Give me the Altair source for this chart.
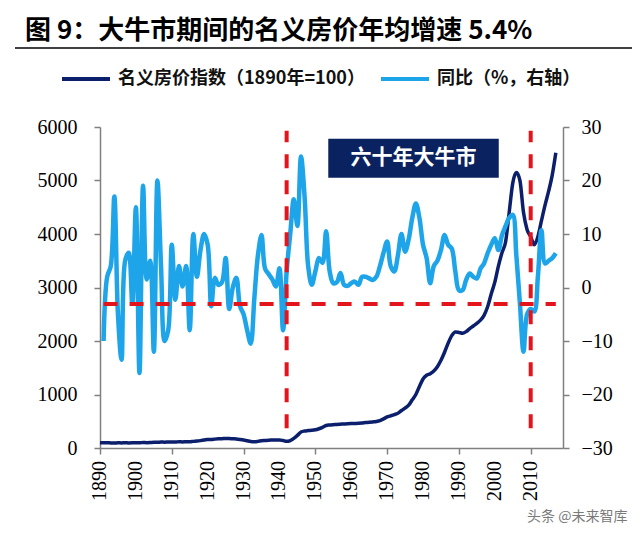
import altair as alt
import pandas as pd

# ---------------- data ----------------
title_text = "图 9：大牛市期间的名义房价年均增速 5.4%"
series_names = ["名义房价指数（1890年=100）", "同比（%，右轴）"]
box_label = "六十年大牛市"
watermark = "头条 @未来智库"

index_years = list(range(1890, 2018))
index_values = [
    100, 96, 100, 95, 93, 97, 95, 98, 94, 96,
    100, 96, 104, 100, 102, 108, 106, 112, 108, 112,
    114, 110, 118, 114, 118, 116, 124, 130, 138, 148,
    160, 158, 166, 172, 174, 178, 176, 172, 168, 160,
    150, 136, 122, 118, 124, 134, 140, 146, 148, 150,
    150, 140, 125, 140, 180, 235, 300, 318, 325, 330,
    340, 360, 385, 420, 430, 436, 441, 446, 450, 453,
    456, 459, 463, 468, 475, 481, 488, 496, 512, 545,
    580, 602, 625, 650, 700, 745, 800, 900, 1000, 1150,
    1290, 1360, 1390, 1440, 1520, 1640, 1790, 1960, 2100, 2170,
    2160, 2145, 2175, 2230, 2280, 2330, 2390, 2480, 2640, 2880,
    3100, 3400, 3650, 3850, 4400, 4950, 5150, 5000, 4400, 4080,
    3950, 3800, 3950, 4250, 4540, 4800, 5100, 5520,
]

yoy_years = list(range(1891, 2018))
yoy_values = [
    -10, 2, 4, 17, -5, -13.5, 5, 6.5, -3,                 # 1891-1899
    15, -16, 19, 1.5, 5, -12, 20, 4, -10, -8,             # 1900-1909
    8, -2.3, 4, 0.2, 4, -8, 10, 2, 7, 10,                 # 1910-1919
    8, -3.5, 1.8, 0.5, 1, 5.5, -4, 0, 1.8, -3.5,          # 1920-1929
    -5, -8, -10.5, -2, 6, 9.8, 3.5, 2.5, 1.5, 0.2,        # 1930-1939
    3.6, -8, 3, 10, 16.5, 11.5, 24.5, 17, 4, 0.5,         # 1940-1949
    3, 5.5, 4.6, 10.5, 3, 0.8, 1, 2.7, 0.5, 0.3,          # 1950-1959
    0.8, 1.1, 0.5, 2, 2, 1.7, 1.4, 2, 4, 6.5,             # 1960-1969
    8.6, 4, 3, 6, 10, 6.7, 9, 13, 15.7, 13,               # 1970-1979
    8, 5.5, 0.8, 4, 5, 7, 9.8, 8, 7.3, 3,                 # 1980-1989
    -0.5, -0.5, 1.4, 2.6, 2, 1.7, 3.5, 4.5, 6.4, 8,       # 1990-1999
    9.2, 7, 9.8, 11.5, 13, 13.6, 6, -3, -12, -5,          # 2000-2009
    -4, -4.5, 2, 10.7, 4.5, 5, 5.5, 6.4,                  # 2010-2017
]

x_domain = [1890, 2019]
x_ticks = list(range(1890, 2011, 10))
left_domain = [0, 6000]
left_ticks = list(range(0, 6001, 1000))
right_domain = [-30, 30]
right_ticks = list(range(-30, 31, 10))

split_years = [1942, 2010]          # red dashed verticals
split_span = [-26.3, 29.3]          # their extent, right-axis units
ref_level = [-3.1]                  # red dashed horizontal, right-axis units
ref_span = [1891, 2017]

box_years = [1953.6, 2001.1]        # annotation box, left-axis units
box_values = [5050, 5780]

NAVY = "#0C1F6C"
BOX = "#0B2260"
BLUE = "#1EA4E9"
RED = "#E3141B"
AXIS_GREY = "#808080"

# ---------------- frames ----------------
idx_df = pd.DataFrame({"year": index_years, "value": index_values, "series": series_names[0]})
yoy_df = pd.DataFrame({"year": yoy_years, "value": yoy_values, "series": series_names[1]})
split_df = pd.DataFrame({"year": split_years, "lo": split_span[0], "hi": split_span[1]})
ref_df = pd.DataFrame({"level": ref_level, "x0": ref_span[0], "x1": ref_span[1]})
tick_df = pd.DataFrame({"year": x_ticks, "label": [str(t) for t in x_ticks]})
box_df = pd.DataFrame({
    "x0": [box_years[0]], "x1": [box_years[1]],
    "y0": [box_values[0]], "y1": [box_values[1]],
    "xm": [sum(box_years) / 2], "ym": [sum(box_values) / 2],
    "label": [box_label],
})

x_scale = alt.Scale(domain=x_domain, nice=False, zero=False)
x_axis = alt.Axis(values=x_ticks, labels=False, title=None, grid=False)
left_scale = alt.Scale(domain=left_domain, nice=False, zero=False)
right_scale = alt.Scale(domain=right_domain, nice=False, zero=False)

color = alt.Color(
    "series:N",
    scale=alt.Scale(domain=series_names, range=[NAVY, BLUE]),
    legend=alt.Legend(
        title=None, orient="none", direction="horizontal",
        legendX=-40, legendY=-74,
        symbolType="stroke", symbolSize=2304, symbolStrokeWidth=4,
        labelFont="Noto Sans CJK SC", labelFontSize=18, labelFontWeight="bold",
        labelColor="#111111", labelLimit=400, labelOffset=6, columnPadding=8,
    ),
)

# ---------------- left group: index ----------------
navy_line = alt.Chart(idx_df).mark_line(strokeWidth=3.5, interpolate="monotone").encode(
    x=alt.X("year:Q", scale=x_scale, axis=x_axis),
    y=alt.Y("value:Q", scale=left_scale,
            axis=alt.Axis(values=left_ticks, orient="left", title=None, grid=False,
                          labelPadding=17, format="d")),
    color=color,
)

# x-axis tick labels (vertical, reading upward), placed via the x scale
x_labels = alt.Chart(tick_df).mark_text(
    font="Liberation Serif", fontSize=20, color="black", angle=270,
    align="right", baseline="middle",
).encode(x=alt.X("year:Q", scale=x_scale, axis=x_axis), y=alt.value(334), text="label:N")

box_rect = alt.Chart(box_df).mark_rect(color=BOX).encode(
    x="x0:Q", x2="x1", y="y0:Q", y2="y1",
)
box_text = alt.Chart(box_df).mark_text(
    color="white", font="Noto Sans CJK SC", fontSize=21, fontWeight="bold", baseline="middle"
).encode(x="xm:Q", y="ym:Q", text="label:N")

title_mark = alt.Chart(pd.DataFrame({"t": [title_text]})).mark_text(
    font="Noto Sans CJK SC", fontSize=26, fontWeight="bold", color="black",
    align="left", baseline="middle",
).encode(text="t:N", x=alt.value(-75), y=alt.value(-96))

title_rule = alt.Chart(pd.DataFrame({"t": [0]})).mark_rule(color="black", strokeWidth=1.5).encode(
    x=alt.value(-85), x2=alt.value(532), y=alt.value(-79)
)

wm_mark = alt.Chart(pd.DataFrame({"t": [watermark]})).mark_text(
    font="Noto Sans CJK SC", fontSize=14, color="#7a7a7a", align="left", baseline="middle",
).encode(text="t:N", x=alt.value(427), y=alt.value(390))

left_layer = alt.layer(navy_line, x_labels, box_rect, box_text, title_mark, title_rule, wm_mark)

# ---------------- right group: yoy ----------------
blue_line = alt.Chart(yoy_df).mark_line(strokeWidth=4.5, interpolate="catmull-rom").encode(
    x=alt.X("year:Q", scale=x_scale, axis=x_axis),
    y=alt.Y("value:Q", scale=right_scale,
            axis=alt.Axis(values=right_ticks, orient="right", title=None, grid=False,
                          labelPadding=12, format="d")),
    color=color,
)

vlines = alt.Chart(split_df).mark_rule(color=RED, strokeWidth=4, strokeDash=[14, 12]).encode(
    x="year:Q", y="lo:Q", y2="hi"
)
hline = alt.Chart(ref_df).mark_rule(color=RED, strokeWidth=4, strokeDash=[14, 12]).encode(
    y="level:Q", x="x0:Q", x2="x1"
)

right_layer = alt.layer(blue_line, hline, vlines)

chart = alt.layer(left_layer, right_layer).resolve_scale(y="independent").properties(
    width=463, height=321,
    autosize=alt.AutoSizeParams(type="none"),
    padding={"left": 92, "top": 119, "right": 69, "bottom": 80},
    background="white",
).configure_view(stroke=None).configure_axis(
    domainColor=AXIS_GREY, domainWidth=1.5, tickColor=AXIS_GREY, tickWidth=1.5, tickSize=6,
    labelFont="Liberation Serif", labelFontSize=20, labelColor="black",
)

chart.save("out.html", embed_options={"renderer": "svg", "actions": False})
